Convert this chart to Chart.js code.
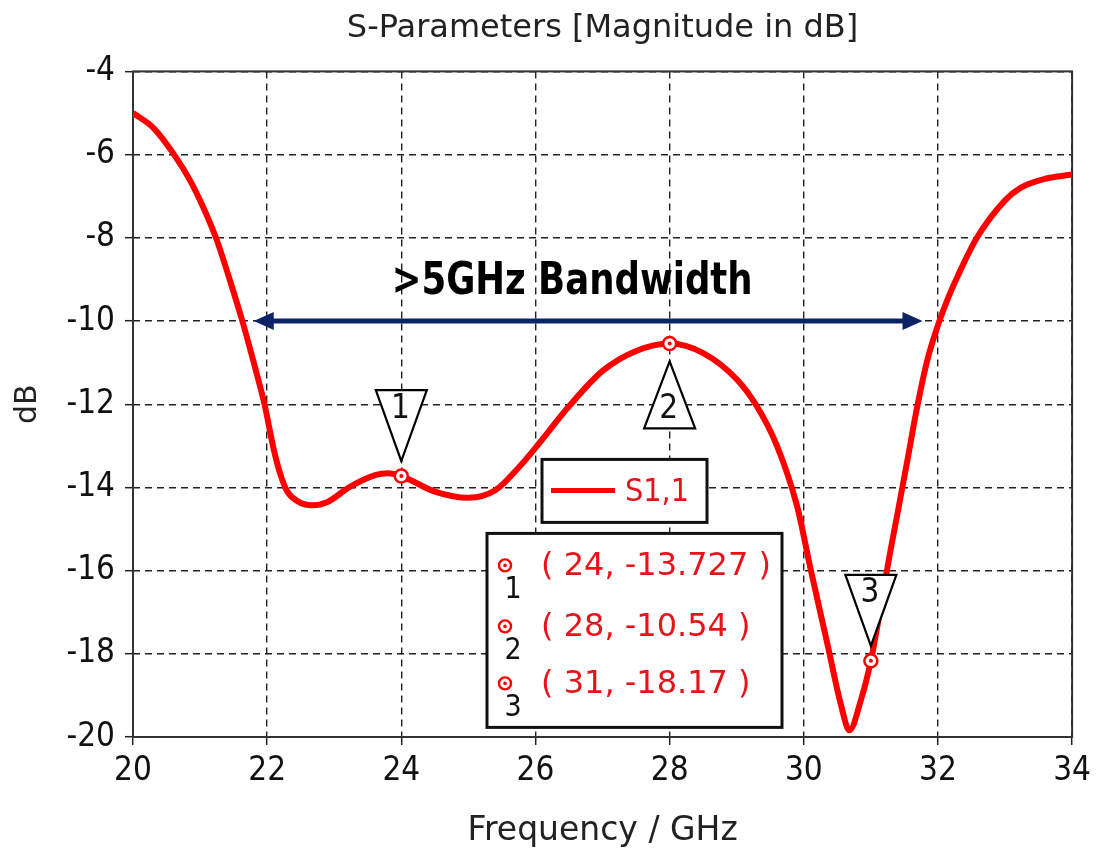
<!DOCTYPE html>
<html><head><meta charset="utf-8">
<script src="https://cdn.jsdelivr.net/npm/chart.js@4/dist/chart.umd.min.js"></script>
<style>html,body{margin:0;padding:0;background:#fff;}#wrap{width:1098px;height:852px;}</style>
</head><body><div id="wrap"><canvas id="c" width="1098" height="852"></canvas></div>
<script>
// ---- data ----
const freqGHz = [20, 20.3, 20.6, 20.85, 21.05, 21.25, 21.45, 21.63, 21.8, 21.96, 22.1, 22.2, 22.3, 22.45, 22.67, 22.9, 23.22, 23.62, 23.8, 24, 24.5, 25, 25.4, 25.75, 26, 26.5, 27, 27.5, 28, 28.5, 29, 29.3, 29.6, 29.9, 30.1, 30.35, 30.55, 30.68, 30.85, 31, 31.1, 31.2, 31.3, 31.4, 31.55, 31.68, 31.84, 32, 32.15, 32.3, 32.58, 33, 33.23, 33.6, 34];
const s11dB = [-5.0, -5.35, -5.97, -6.62, -7.28, -8.06, -9.05, -10.0, -11.0, -12.0, -13.1, -13.7, -14.1, -14.33, -14.43, -14.35, -14.0, -13.7, -13.66, -13.727, -14.1, -14.25, -14.07, -13.52, -13.05, -12.05, -11.2, -10.72, -10.54, -10.77, -11.4, -12.05, -13.0, -14.45, -15.95, -17.75, -19.2, -19.84, -19.12, -18.17, -17.3, -16.35, -15.45, -14.6, -13.3, -12.15, -10.95, -10.1, -9.45, -8.9, -8.0, -7.1, -6.8, -6.58, -6.48];
const markerFreq = [24, 28, 31];
const markerDb = [-13.727, -10.54, -18.17];
const markerIds = ['1', '2', '3'];
const markerPointsDown = [true, false, true];
const markerLabels = ['( 24, -13.727 )', '( 28, -10.54 )', '( 31, -18.17 )'];
const xTickValues = [20, 22, 24, 26, 28, 30, 32, 34];
const yTickValues = [-20, -18, -16, -14, -12, -10, -8, -6, -4];
const bandwidthFreq = [21.8, 31.77];
const bandwidthLevel = -10;
const bandwidthText = '>5GHz Bandwidth';
const seriesName = 'S1,1';
const titleText = 'S-Parameters [Magnitude in dB]';
const xTitle = 'Frequency / GHz';
const yTitle = 'dB';

const FONT = '"DejaVu Sans Condensed", "DejaVu Sans", sans-serif';
const FONT_W = '"DejaVu Sans", sans-serif';
const RED = '#ff0000';
const TXT_RED = '#e8121b';
const NAVY = '#0c2466';

const annot = {
  id: 'annot',
  beforeDatasetsDraw(chart) {
    const {ctx, chartArea: a} = chart;
    ctx.save();
    ctx.strokeStyle = '#333';
    ctx.lineWidth = 2;
    ctx.strokeRect(a.left, a.top, a.right - a.left, a.bottom - a.top);
    ctx.restore();
  },
  afterDatasetsDraw(chart) {
    const {ctx, chartArea: a} = chart;
    const xs = chart.scales.x, ys = chart.scales.y;
    ctx.save();
    // bandwidth arrow
    const ax1 = xs.getPixelForValue(bandwidthFreq[0]);
    const ax2 = xs.getPixelForValue(bandwidthFreq[1]);
    const ay = ys.getPixelForValue(bandwidthLevel);
    const hl = 20, hw = 9;
    ctx.strokeStyle = NAVY; ctx.fillStyle = NAVY; ctx.lineWidth = 5;
    ctx.beginPath(); ctx.moveTo(ax1 + hl - 2, ay); ctx.lineTo(ax2 - hl + 2, ay); ctx.stroke();
    ctx.beginPath(); ctx.moveTo(ax1, ay); ctx.lineTo(ax1 + hl, ay - hw); ctx.lineTo(ax1 + hl, ay + hw); ctx.closePath(); ctx.fill();
    ctx.beginPath(); ctx.moveTo(ax2, ay); ctx.lineTo(ax2 - hl, ay - hw); ctx.lineTo(ax2 - hl, ay + hw); ctx.closePath(); ctx.fill();
    // bandwidth label
    ctx.fillStyle = '#000';
    ctx.font = 'bold 40px ' + FONT;
    const w = ctx.measureText(bandwidthText).width;
    const cx = (ax1 + ax2) / 2 - 16;
    ctx.textBaseline = 'alphabetic'; ctx.textAlign = 'left';
    ctx.save();
    ctx.translate(cx - 361 / 2, ay - 27);
    ctx.scale(361 / w, 1.12);
    ctx.fillText(bandwidthText, 0, 0);
    ctx.restore();
    // marker triangles
    ctx.lineWidth = 2.2; ctx.strokeStyle = '#000';
    markerFreq.forEach((f, i) => {
      const px = xs.getPixelForValue(f), py = ys.getPixelForValue(markerDb[i]);
      const down = markerPointsDown[i];
      const gap = down ? 15 : 18, h = down ? 71 : 67, half = 25.5;
      ctx.beginPath();
      if (down) {
        ctx.moveTo(px, py - gap); ctx.lineTo(px - half, py - gap - h); ctx.lineTo(px + half, py - gap - h);
      } else {
        ctx.moveTo(px, py + gap); ctx.lineTo(px - half, py + gap + h); ctx.lineTo(px + half, py + gap + h);
      }
      ctx.closePath(); ctx.fillStyle = '#fff'; ctx.fill(); ctx.stroke();
      ctx.fillStyle = '#111'; ctx.font = '33px ' + FONT; ctx.textAlign = 'center'; ctx.textBaseline = 'middle';
      const ty = down ? py - gap - h + 19 : py + gap + h - 19;
      ctx.fillText(markerIds[i], px - 1, ty);
      // center dot of marker
      ctx.fillStyle = RED;
      ctx.beginPath(); ctx.arc(px, py, 2, 0, Math.PI * 2); ctx.fill();
    });
    // legend box (series)
    const L = a.left, T = a.top;
    ctx.lineWidth = 3; ctx.strokeStyle = '#111'; ctx.fillStyle = '#fff';
    ctx.fillRect(L + 409, T + 388, 165, 63); ctx.strokeRect(L + 409, T + 388, 165, 63);
    ctx.strokeStyle = RED; ctx.lineWidth = 5;
    ctx.beginPath(); ctx.moveTo(L + 418, T + 419); ctx.lineTo(L + 482, T + 419); ctx.stroke();
    ctx.fillStyle = TXT_RED; ctx.font = '32px ' + FONT; ctx.textAlign = 'left'; ctx.textBaseline = 'middle';
    ctx.fillText(seriesName, L + 492, T + 421);
    // marker table
    ctx.lineWidth = 3; ctx.strokeStyle = '#111'; ctx.fillStyle = '#fff';
    ctx.fillRect(L + 354, T + 462, 295, 194); ctx.strokeRect(L + 354, T + 462, 295, 194);
    const rowY = [494, 555, 612];
    markerLabels.forEach((lab, i) => {
      const ry = T + rowY[i];
      ctx.strokeStyle = RED; ctx.lineWidth = 2.4; ctx.fillStyle = '#fff';
      ctx.beginPath(); ctx.arc(L + 372, ry, 6, 0, Math.PI * 2); ctx.fill(); ctx.stroke();
      ctx.fillStyle = RED; ctx.beginPath(); ctx.arc(L + 372, ry, 1.8, 0, Math.PI * 2); ctx.fill();
      ctx.fillStyle = '#111'; ctx.font = '30px ' + FONT; ctx.textAlign = 'center';
      ctx.fillText(markerIds[i], L + 380, ry + 25);
      ctx.fillStyle = TXT_RED; ctx.font = '32px ' + FONT_W; ctx.textAlign = 'left';
      ctx.fillText(lab, L + 408, ry + 1);
    });
    ctx.restore();
  }
};

new Chart(document.getElementById('c'), {
  type: 'line',
  data: {
    datasets: [
      {
        label: 'markers',
        data: markerFreq.map((f, i) => ({x: f, y: markerDb[i]})),
        showLine: false, pointRadius: 6.5, pointBorderWidth: 2.5,
        pointBorderColor: RED, pointBackgroundColor: '#fff', order: 0
      },
      {
        label: seriesName,
        data: freqGHz.map((f, i) => ({x: f, y: s11dB[i]})),
        borderColor: RED, borderWidth: 6, pointRadius: 0,
        cubicInterpolationMode: 'monotone', fill: false, order: 1
      }
    ]
  },
  options: {
    responsive: false, animation: false, devicePixelRatio: 1,
    layout: {padding: {left: 0, right: 23, top: 0, bottom: 0}},
    plugins: {
      legend: {display: false}, tooltip: {enabled: false},
      title: {display: true, fullSize: false, text: titleText, color: '#222', font: {family: FONT_W, size: 32, weight: 'normal'}, padding: {top: 9, bottom: 24}}
    },
    scales: {
      x: {
        type: 'linear', min: 20, max: 34,
        afterBuildTicks: s => { s.ticks = xTickValues.map(v => ({value: v})); },
        afterFit: s => { s.height = 115; },
        ticks: {color: '#111', font: {family: FONT, size: 33}, padding: 7, maxRotation: 0},
        grid: {color: '#222', lineWidth: 1.4, tickLength: 8, tickColor: '#222', tickWidth: 1.5, tickBorderDash: []},
        border: {display: false, dash: [7, 5]},
        title: {display: true, text: xTitle, color: '#222', font: {family: FONT_W, size: 33}, padding: {top: 0, bottom: 1}}
      },
      y: {
        type: 'linear', min: -20, max: -4,
        afterBuildTicks: s => { s.ticks = yTickValues.map(v => ({value: v})); },
        afterFit: s => { s.width = 133; },
        ticks: {color: '#111', font: {family: FONT, size: 33}, padding: 10},
        grid: {color: '#222', lineWidth: 1.4, tickLength: 8, tickColor: '#222', tickWidth: 1.5, tickBorderDash: []},
        border: {display: false, dash: [7, 5]},
        title: {display: true, text: yTitle, color: '#222', font: {family: FONT_W, size: 30}, padding: {top: 10, bottom: 0}}
      }
    }
  },
  plugins: [annot]
});
</script></body></html>
